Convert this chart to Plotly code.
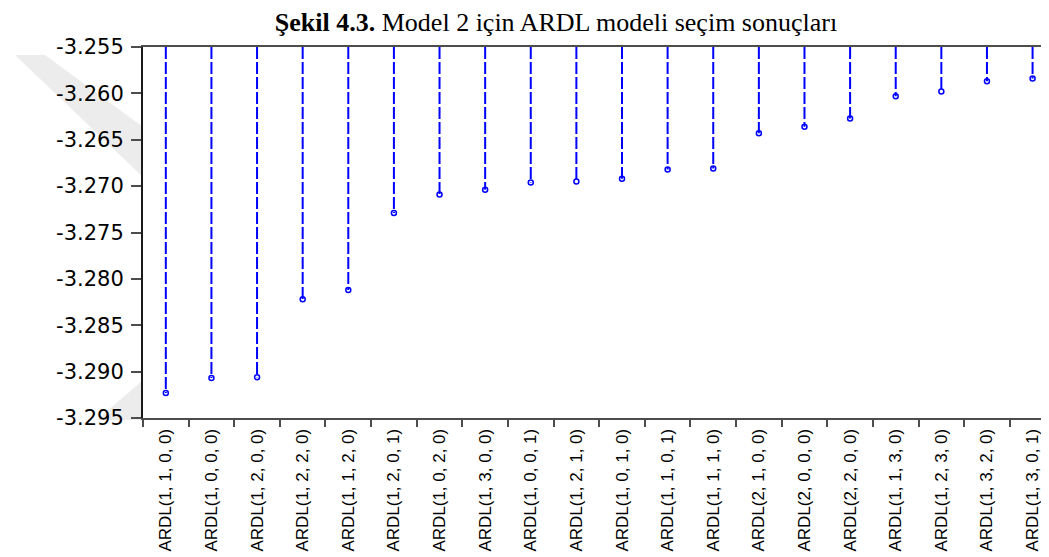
import plotly.graph_objects as go

categories = [
    "ARDL(1, 1, 0, 0)", "ARDL(1, 0, 0, 0)", "ARDL(1, 2, 0, 0)", "ARDL(1, 2, 2, 0)",
    "ARDL(1, 1, 2, 0)", "ARDL(1, 2, 0, 1)", "ARDL(1, 0, 2, 0)", "ARDL(1, 3, 0, 0)",
    "ARDL(1, 0, 0, 1)", "ARDL(1, 2, 1, 0)", "ARDL(1, 0, 1, 0)", "ARDL(1, 1, 0, 1)",
    "ARDL(1, 1, 1, 0)", "ARDL(2, 1, 0, 0)", "ARDL(2, 0, 0, 0)", "ARDL(2, 2, 0, 0)",
    "ARDL(1, 1, 3, 0)", "ARDL(1, 2, 3, 0)", "ARDL(1, 3, 2, 0)", "ARDL(1, 3, 0, 1)",
]
aic_values = [
    -3.2923, -3.2907, -3.2906, -3.2822, -3.2812, -3.2729, -3.2709, -3.2704,
    -3.2696, -3.2695, -3.2692, -3.2682, -3.2681, -3.2643, -3.2636, -3.2627,
    -3.2603, -3.2598, -3.2587, -3.2584,
]
y_tick_values = [-3.295, -3.290, -3.285, -3.280, -3.275, -3.270, -3.265, -3.260, -3.255]
y_tick_labels = ["-3.295", "-3.290", "-3.285", "-3.280", "-3.275", "-3.270", "-3.265", "-3.260", "-3.255"]

y_top = max(y_tick_values)
y_bottom = min(y_tick_values)

# stems hanging from the top of the plot down to each value
stem_x, stem_y = [], []
for c, v in zip(categories, aic_values):
    stem_x += [c, c, None]
    stem_y += [y_top, v, None]

fig = go.Figure()
fig.add_trace(go.Scatter(
    x=stem_x, y=stem_y, mode="lines",
    line=dict(color="#0000FF", width=2, dash="12px,3px"),
    hoverinfo="skip", showlegend=False,
))
fig.add_trace(go.Scatter(
    x=categories, y=aic_values, mode="markers",
    marker=dict(symbol="circle-open", size=5, color="#0000FF", line=dict(width=1.5, color="#0000FF")),
    showlegend=False,
))

# page body has an 8px margin, so the figure is sized/positioned to compensate
W, H = 1041, 549
ML, MT, MB = 135, 39, 139
PW, PH = W - ML, H - MT - MB


def paper_xy(px, py):
    """Window pixel -> paper coordinates (for the faint background watermark)."""
    return (px - 8 - ML) / PW, 1 - (py - 8 - MT) / PH


def poly_path(points):
    pts = [paper_xy(*p) for p in points]
    return "M " + " L ".join(f"{x:.4f},{y:.4f}" for x, y in pts) + " Z"


watermark_shapes = [
    dict(type="path", xref="paper", yref="paper", layer="below",
         path=poly_path([(15, 55), (45, 55), (143, 127), (143, 177)]),
         fillcolor="#ececec", line=dict(width=0)),
    dict(type="path", xref="paper", yref="paper", layer="below",
         path=poly_path([(97, 420), (143, 380), (143, 420)]),
         fillcolor="#ececec", line=dict(width=0)),
]

fig.update_layout(
    width=W, height=H,
    margin=dict(l=ML, r=0, t=MT, b=MB, autoexpand=False),
    paper_bgcolor="white", plot_bgcolor="rgba(0,0,0,0)",
    shapes=watermark_shapes,
    title=dict(
        text="<b>Şekil 4.3.</b> Model 2 için ARDL modeli seçim sonuçları",
        font=dict(family="Liberation Serif, Times New Roman, serif", size=26, color="#000000"),
        x=548 / W, xref="container", xanchor="center",
        y=1 - 14 / H, yref="container", yanchor="middle",
    ),
)
fig.update_xaxes(
    type="category", categoryorder="array", categoryarray=categories,
    range=[-0.5, len(categories) - 0.5 - 0.14],
    automargin=False,
    showline=True, linecolor="#4d4d4d", linewidth=2, mirror=True,
    ticks="outside", tickson="boundaries", ticklen=7, tickcolor="#4d4d4d", tickwidth=1.5,
    tickangle=-90, ticklabelstandoff=2,
    tickfont=dict(family="Liberation Sans, Arial, sans-serif", size=17, color="#000000"),
    showgrid=False, zeroline=False,
)
fig.update_yaxes(
    range=[y_bottom, y_top],
    automargin=False,
    tickvals=y_tick_values, ticktext=y_tick_labels,
    showline=True, linecolor="#1a1a1a", linewidth=2,
    ticks="outside", ticklen=10, tickcolor="#4d4d4d", tickwidth=1.5,
    ticklabelstandoff=3,
    tickfont=dict(family="DejaVu Sans, sans-serif", size=21, color="#000000"),
    showgrid=False, zeroline=False,
)

fig.write_html("out.html")
